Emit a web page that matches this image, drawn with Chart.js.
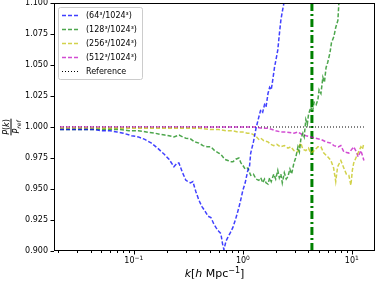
<!DOCTYPE html>
<html>
<head>
<meta charset="utf-8">
<script src="https://cdn.jsdelivr.net/npm/chart.js@4.4.0/dist/chart.umd.min.js"></script>
<style>
  html, body { margin: 0; padding: 0; background: #fff; }
  #wrap { width: 379px; height: 283px; }
</style>
</head>
<body>
<div id="wrap"><canvas id="myChart" width="379" height="283"></canvas></div>
<script>
// series labels
const seriesLabels = ['(64³/1024³)', '(128³/1024³)', '(256³/1024³)', '(512³/1024³)']

// 64^3 run
const k64 = [0.021, 0.025, 0.030, 0.036, 0.043, 0.050, 0.060, 0.070, 0.080, 0.095, 0.11, 0.126, 0.145, 0.165, 0.19, 0.21, 0.233, 0.25, 0.259, 0.28, 0.30, 0.33, 0.348, 0.37, 0.395, 0.42, 0.458, 0.48, 0.509, 0.54, 0.565, 0.60, 0.628, 0.65, 0.67, 0.70, 0.728, 0.77, 0.81, 0.86, 0.919, 0.96, 1.0, 1.05, 1.11, 1.15, 1.18, 1.25, 1.32, 1.40, 1.46, 1.52, 1.58, 1.63, 1.70, 1.76, 1.82, 1.88, 1.95, 2.02, 2.09, 2.15, 2.23, 2.30, 2.38, 2.5]
const p64 = [0.998, 0.998, 0.998, 0.998, 0.998, 0.997, 0.997, 0.996, 0.995, 0.993, 0.992, 0.990, 0.987, 0.983, 0.978, 0.974, 0.968, 0.971, 0.971, 0.963, 0.957, 0.955, 0.956, 0.948, 0.941, 0.936, 0.931, 0.928, 0.927, 0.922, 0.919, 0.916, 0.914, 0.906, 0.901, 0.908, 0.911, 0.915, 0.919, 0.926, 0.935, 0.942, 0.949, 0.955, 0.965, 0.968, 0.979, 0.988, 0.999, 1.008, 1.014, 1.012, 1.018, 1.016, 1.027, 1.032, 1.030, 1.038, 1.048, 1.055, 1.062, 1.073, 1.086, 1.093, 1.100, 1.115]

// 128^3 run
const k128 = [0.021, 0.03, 0.04, 0.05, 0.06, 0.075, 0.09, 0.11, 0.13, 0.156, 0.175, 0.192, 0.21, 0.233, 0.25, 0.26, 0.28, 0.30, 0.33, 0.36, 0.395, 0.43, 0.47, 0.509, 0.55, 0.60, 0.628, 0.68, 0.728, 0.77, 0.81, 0.86, 0.919, 0.96, 1.0, 1.05, 1.11, 1.18, 1.25, 1.32, 1.40, 1.46, 1.52, 1.58, 1.63, 1.70, 1.76, 1.82, 1.92, 2.0, 2.09, 2.16, 2.23, 2.30, 2.40, 2.50, 2.59, 2.70, 2.80, 2.94, 3.05, 3.20, 3.30, 3.40, 3.55, 3.65, 3.78, 3.90, 4.0, 4.2, 4.35, 4.5, 4.7, 4.88, 5.0, 5.2, 5.42, 5.6, 5.8, 6.0, 6.15, 6.3, 6.5, 6.84, 7.1, 7.44, 7.6, 8.0]
const p128 = [0.998, 0.998, 0.998, 0.998, 0.998, 0.998, 0.997, 0.997, 0.996, 0.995, 0.994, 0.9935, 0.993, 0.992, 0.993, 0.9935, 0.992, 0.991, 0.9905, 0.988, 0.987, 0.985, 0.984, 0.984, 0.981, 0.979, 0.978, 0.974, 0.973, 0.972, 0.972, 0.974, 0.975, 0.971, 0.969, 0.966, 0.967, 0.961, 0.962, 0.958, 0.957, 0.959, 0.955, 0.958, 0.955, 0.954, 0.959, 0.956, 0.962, 0.958, 0.965, 0.959, 0.962, 0.955, 0.963, 0.958, 0.960, 0.966, 0.962, 0.971, 0.975, 0.984, 0.980, 0.990, 0.995, 0.992, 1.006, 1.002, 1.010, 1.016, 1.012, 1.020, 1.018, 1.022, 1.030, 1.027, 1.040, 1.036, 1.048, 1.052, 1.056, 1.060, 1.068, 1.073, 1.080, 1.086, 1.100, 1.115]

// 256^3 run
const k256 = [0.021, 0.03, 0.05, 0.08, 0.12, 0.2, 0.3, 0.4, 0.5, 0.6, 0.7, 0.8, 0.9, 1.0, 1.1, 1.18, 1.3, 1.4, 1.46, 1.55, 1.7, 1.8, 1.92, 2.05, 2.2, 2.4, 2.59, 2.75, 2.94, 3.2, 3.3, 3.4, 3.55, 3.78, 4.0, 4.2, 4.5, 4.88, 5.2, 5.53, 6.0, 6.42, 6.8, 7.11, 7.4, 7.92, 8.43, 8.9, 9.38, 9.79, 10.1, 10.4, 11.0, 11.4, 12.1, 12.5, 12.9]
const p256 = [0.999, 0.999, 0.999, 0.999, 0.999, 0.999, 0.999, 0.999, 0.998, 0.998, 0.997, 0.997, 0.996, 0.996, 0.995, 0.995, 0.993, 0.990, 0.991, 0.989, 0.988, 0.986, 0.985, 0.986, 0.984, 0.985, 0.983, 0.984, 0.981, 0.980, 0.985, 0.987, 0.982, 0.981, 0.983, 0.979, 0.981, 0.984, 0.984, 0.979, 0.976, 0.973, 0.967, 0.956, 0.968, 0.973, 0.967, 0.962, 0.961, 0.953, 0.965, 0.971, 0.976, 0.979, 0.984, 0.982, 0.987]

// 512^3 run
const k512 = [0.021, 0.03, 0.05, 0.08, 0.12, 0.2, 0.3, 0.5, 0.7, 1.0, 1.3, 1.5, 1.7, 2.0, 2.23, 2.5, 2.94, 3.2, 3.5, 3.8, 4.2, 4.6, 5.2, 5.8, 6.42, 6.84, 7.5, 7.92, 8.43, 9.38, 10.4, 11.0, 11.4, 12.1, 12.5, 12.9]
const p512 = [1.000, 1.000, 1.000, 1.000, 1.000, 1.000, 1.000, 1.000, 1.000, 1.000, 1.000, 0.999, 0.999, 0.997, 0.996, 0.996, 0.995, 0.996, 0.994, 0.993, 0.992, 0.991, 0.990, 0.988, 0.987, 0.985, 0.984, 0.985, 0.980, 0.979, 0.984, 0.980, 0.976, 0.981, 0.977, 0.973]

// reference line and k marker
const kRef = [0.021, 12.9]
const pRef = [1.0, 1.0]
const kMark = [4.3, 4.3]
const pMark = [0.9, 1.1]

// axis ticks
const yTicks = [0.9, 0.925, 0.95, 0.975, 1.0, 1.025, 1.05, 1.075, 1.1]
const xMajor = [0.1, 1, 10]
const xMajorExp = ['−1', '0', '1']

const colors = ['rgba(0,0,255,0.75)', 'rgba(0,128,0,0.7)', 'rgba(191,191,0,0.7)', 'rgba(191,0,191,0.7)']

const xMinor = []
for (const d of [0.01, 0.1, 1]) {
    for (let m = 2; m <= 9; m++) xMinor.push(+(m * d).toPrecision(3))
}

function pts(ks, vs) {
    return ks.map((k, i) => ({ x: k, y: vs[i] }))
}

function series(label, ks, vs, color) {
    return {
        label: label,
        data: pts(ks, vs),
        borderColor: color,
        borderWidth: 1.5,
        borderDash: [4, 2],
        pointRadius: 0,
        tension: 0,
        fill: false,
    }
}

const FONT = '"DejaVu Sans", sans-serif'

const decor = {
    id: 'decor',
    afterDraw(chart) {
        const c = chart.ctx
        const a = chart.chartArea
        const xs = chart.scales.x
        const ys = chart.scales.y
        c.save()
        c.strokeStyle = '#000'
        c.lineWidth = 1
        // frame
        c.strokeRect(Math.round(a.left) + 0.5, Math.round(a.top) + 0.5, Math.round(a.right - a.left) - 1, Math.round(a.bottom - a.top) - 1)
        // ticks
        c.beginPath()
        for (const v of xMajor) {
            const px = Math.round(xs.getPixelForValue(v)) + 0.5
            c.moveTo(px, a.bottom); c.lineTo(px, a.bottom + 3.5)
        }
        for (const v of xMinor) {
            const px = Math.round(xs.getPixelForValue(v)) + 0.5
            if (px < a.left || px > a.right) continue
            c.moveTo(px, a.bottom); c.lineTo(px, a.bottom + 2)
        }
        for (const v of yTicks) {
            const py = Math.round(ys.getPixelForValue(v)) + 0.5
            c.moveTo(a.left - 3.5, py); c.lineTo(a.left, py)
        }
        c.stroke()

        // x tick labels 10^n
        c.fillStyle = '#000'
        c.textBaseline = 'alphabetic'
        for (let i = 0; i < xMajor.length; i++) {
            const px = xs.getPixelForValue(xMajor[i])
            c.font = '8px ' + FONT
            const bw = c.measureText('10').width
            c.font = '6px ' + FONT
            const ew = c.measureText(xMajorExp[i]).width
            const x0 = px - (bw + ew) / 2
            c.font = '8px ' + FONT
            c.fillText('10', x0, a.bottom + 12)
            c.font = '6px ' + FONT
            c.fillText(xMajorExp[i], x0 + bw, a.bottom + 9)
        }

        // legend
        const lx = 58, ly = 7, lw = 84, lh = 72
        c.fillStyle = 'rgba(255,255,255,0.85)'
        c.strokeStyle = '#cccccc'
        c.beginPath()
        c.roundRect(lx + 0.5, ly + 0.5, lw, lh, 2)
        c.fill(); c.stroke()
        const rows = [15, 29, 43, 57, 71]
        c.font = '8px ' + FONT
        c.textBaseline = 'middle'
        for (let i = 0; i < 5; i++) {
            const y = rows[i] + 0.5
            c.beginPath()
            if (i < 4) {
                c.strokeStyle = colors[i]
                c.lineWidth = 1.5
                c.setLineDash([4, 2])
            } else {
                c.strokeStyle = '#000'
                c.lineWidth = 1
                c.setLineDash([1, 2])
            }
            c.moveTo(62, y); c.lineTo(80, y)
            c.stroke()
            c.setLineDash([])
            c.fillStyle = '#000'
            c.fillText(i < 4 ? seriesLabels[i] : 'Reference', 86, rows[i] + 0.5)
        }

        // y label: P(k) / P_ref
        c.save()
        c.translate(11, 127)
        c.rotate(-Math.PI / 2)
        c.fillStyle = '#000'
        c.textBaseline = 'alphabetic'
        const num = [['P', 'italic 8px '], ['(', '8px '], ['k', 'italic 8px '], [')', '8px ']]
        let w = 0
        for (const [t, f] of num) { c.font = f + FONT; w += c.measureText(t).width }
        let x = -w / 2
        for (const [t, f] of num) { c.font = f + FONT; c.fillText(t, x, -2); x += c.measureText(t).width }
        c.fillRect(-w / 2 - 0.5, -0.5, w + 1, 1)
        c.font = 'italic 8px ' + FONT
        const pw = c.measureText('P').width
        c.font = 'italic 6px ' + FONT
        const rw = c.measureText('ref').width
        x = -(pw + rw) / 2
        c.font = 'italic 8px ' + FONT
        c.fillText('P', x, 7.5)
        c.font = 'italic 6px ' + FONT
        c.fillText('ref', x + pw, 9.5)
        c.restore()

        // x label: k [h Mpc^-1]
        const parts = [['k', 'italic 11px ', 0], ['[', '11px ', 0], ['h', 'italic 11px ', 0], [' Mpc', '11px ', 0], ['−1', '8px ', -4], [']', '11px ', 0]]
        let tw = 0
        for (const [t, f] of parts) { c.font = f + FONT; tw += c.measureText(t).width }
        let tx = (a.left + a.right) / 2 - tw / 2
        c.fillStyle = '#000'
        c.textBaseline = 'alphabetic'
        for (const [t, f, dy] of parts) {
            c.font = f + FONT
            c.fillText(t, tx, 277 + dy)
            tx += c.measureText(t).width
        }
        c.restore()
    }
}

const ctx = document.getElementById('myChart').getContext('2d')

const myChart = new Chart(ctx, {
    type: 'line',
    data: {
        datasets: [
            series(seriesLabels[0], k64, p64, colors[0]),
            series(seriesLabels[1], k128, p128, colors[1]),
            series(seriesLabels[2], k256, p256, colors[2]),
            series(seriesLabels[3], k512, p512, colors[3]),
            {
                label: 'Reference',
                data: pts(kRef, pRef),
                borderColor: '#000',
                borderWidth: 1,
                borderDash: [1, 2],
                pointRadius: 0,
            },
            {
                label: 'k marker',
                data: pts(kMark, pMark),
                borderColor: '#008000',
                borderWidth: 3,
                borderDash: [8, 3, 2, 3],
                pointRadius: 0,
            },
        ],
    },
    options: {
        responsive: false,
        animation: false,
        events: [],
        layout: { padding: { top: 3, right: 4, left: 0, bottom: 0 } },
        plugins: { legend: { display: false }, tooltip: { enabled: false } },
        scales: {
            x: {
                type: 'logarithmic',
                min: 0.0185,
                max: 16.3,
                afterFit: (s) => { s.height = 32; s.paddingLeft = 0; s.paddingRight = 0 },
                afterBuildTicks: (s) => { s.ticks = xMajor.map(v => ({ value: v })) },
                grid: { display: false, drawTicks: false },
                border: { display: false },
                ticks: { display: false },
            },
            y: {
                min: 0.9,
                max: 1.1,
                afterFit: (s) => { s.width = 54; s.paddingTop = 0; s.paddingBottom = 0 },
                afterBuildTicks: (s) => { s.ticks = yTicks.map(v => ({ value: v })) },
                grid: { display: false, drawTicks: false },
                border: { display: false },
                ticks: {
                    padding: 6,
                    color: '#000',
                    font: { family: FONT, size: 8 },
                    callback: (v) => Number(v).toFixed(3),
                },
            },
        },
    },
    plugins: [decor],
});
</script>
</body>
</html>
